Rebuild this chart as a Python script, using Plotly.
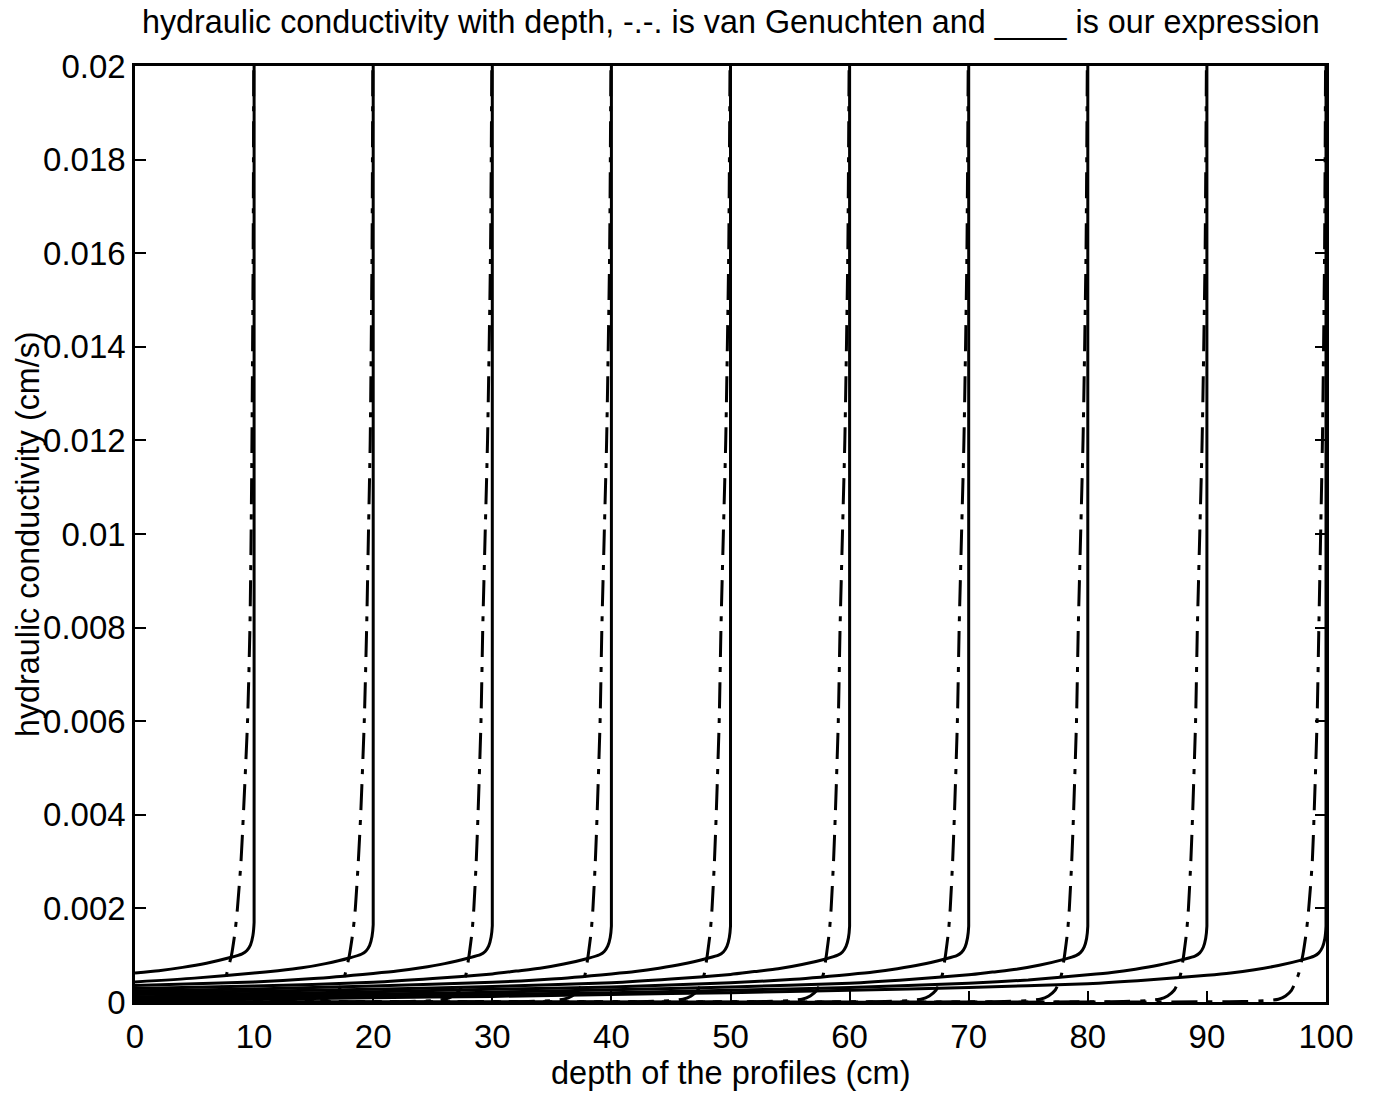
import plotly.graph_objects as go

# Profile depths (cm): each profile ends at its own depth
depths = [10, 20, 30, 40, 50, 60, 70, 80, 90, 100]

# "Our expression": distance above the bottom of each profile (cm)
ours_dist = [0.0, 0.1, 0.3, 0.6, 1.0, 2.0, 4.0, 6.0, 8.0, 10.0,
             15.0, 20.0, 30.0, 40.0, 50.0, 60.0, 70.0, 80.0, 90.0, 100.0]
# conductivity (cm/s) at those distances, one list per profile
ours_k = [
    [0.00170, 0.00142, 0.00122, 0.00110, 0.00103, 0.00095, 0.00083, 0.00074, 0.00067, 0.00062],
    [0.00165, 0.00140, 0.00121, 0.00109, 0.00102, 0.00094, 0.00082, 0.00073, 0.00067, 0.00062,
     0.00051, 0.00043],
    [0.00163, 0.00139, 0.00120, 0.00108, 0.00101, 0.00094, 0.00082, 0.00073, 0.00066, 0.00061,
     0.00050, 0.00043, 0.00035],
    [0.00162, 0.00138, 0.00120, 0.00108, 0.00101, 0.00093, 0.00081, 0.00072, 0.00066, 0.00060,
     0.00050, 0.00042, 0.00034, 0.00029],
    [0.00162, 0.00138, 0.00119, 0.00107, 0.00100, 0.00093, 0.00081, 0.00072, 0.00065, 0.00060,
     0.00049, 0.00042, 0.00034, 0.00028, 0.00024],
    [0.00162, 0.00137, 0.00119, 0.00107, 0.00100, 0.00092, 0.00080, 0.00071, 0.00065, 0.00059,
     0.00049, 0.00041, 0.00033, 0.00027, 0.00023, 0.00020],
    [0.00162, 0.00137, 0.00118, 0.00106, 0.00099, 0.00092, 0.00080, 0.00071, 0.00064, 0.00059,
     0.00048, 0.00041, 0.00032, 0.00027, 0.00022, 0.00018, 0.00016],
    [0.00162, 0.00136, 0.00118, 0.00106, 0.00099, 0.00091, 0.00079, 0.00070, 0.00064, 0.00058,
     0.00048, 0.00040, 0.00032, 0.00026, 0.00021, 0.00017, 0.00014, 0.00011],
    [0.00162, 0.00136, 0.00117, 0.00105, 0.00098, 0.00091, 0.00079, 0.00070, 0.00063, 0.00058,
     0.00047, 0.00040, 0.00031, 0.00025, 0.00020, 0.00016, 0.00013, 0.00010, 0.00008],
    [0.00162, 0.00135, 0.00117, 0.00105, 0.00098, 0.00090, 0.00078, 0.00069, 0.00062, 0.00057,
     0.00047, 0.00039, 0.00031, 0.00025, 0.00020, 0.00016, 0.00012, 0.00009, 0.00006, 0.00004],
]
# conductivity at the bottom of the profile, above the plotted range
ours_k_top = 0.021

# van Genuchten: conductivity levels (cm/s) and the depth (cm) at which each profile reaches them
vg_k = [0.021, 0.016, 0.012, 0.010, 0.008, 0.006, 0.004, 0.003, 0.002, 0.0015,
        0.001, 0.0006, 0.0004, 0.00025, 0.00013, 0.00006, 0.00003, 0.00001, 0.000003]
vg_depth = [
    [9.98, 9.92, 9.82, 9.75, 9.65, 9.45, 9.10, 8.90, 8.60, 8.40, 8.10, 7.70, 7.50, 7.20, 6.70, 6.00, 5.00, 3.00, 0.0],
    [19.98, 19.90, 19.75, 19.60, 19.45, 19.25, 18.95, 18.75, 18.50, 18.30, 18.00, 17.65, 17.40, 17.10, 16.60, 15.90, 14.80, 12.50, 0.0],
    [29.98, 29.85, 29.60, 29.40, 29.20, 29.05, 28.80, 28.65, 28.45, 28.30, 28.05, 27.80, 27.55, 27.25, 26.70, 26.00, 25.00, 23.00, 0.0],
    [39.98, 39.85, 39.60, 39.40, 39.20, 39.05, 38.80, 38.65, 38.45, 38.30, 38.05, 37.80, 37.55, 37.25, 36.70, 36.00, 35.00, 33.00, 0.0],
    [49.98, 49.85, 49.60, 49.40, 49.20, 49.05, 48.80, 48.65, 48.45, 48.30, 48.05, 47.80, 47.55, 47.25, 46.70, 46.00, 45.00, 43.00, 0.0],
    [59.98, 59.85, 59.60, 59.40, 59.20, 59.05, 58.80, 58.65, 58.45, 58.30, 58.05, 57.80, 57.55, 57.25, 56.70, 56.00, 55.00, 53.00, 0.0],
    [69.98, 69.85, 69.60, 69.40, 69.20, 69.05, 68.80, 68.65, 68.45, 68.30, 68.05, 67.80, 67.55, 67.25, 66.70, 66.00, 65.00, 63.00, 0.0],
    [79.98, 79.85, 79.60, 79.40, 79.20, 79.05, 78.80, 78.65, 78.45, 78.30, 78.05, 77.80, 77.55, 77.25, 76.70, 76.00, 75.00, 73.00, 0.0],
    [89.98, 89.85, 89.60, 89.40, 89.20, 89.05, 88.80, 88.65, 88.45, 88.30, 88.05, 87.80, 87.55, 87.25, 86.70, 86.00, 85.00, 83.00, 0.0],
    [99.98, 99.88, 99.70, 99.55, 99.40, 99.25, 99.00, 98.85, 98.55, 98.35, 98.05, 97.70, 97.40, 97.10, 96.60, 96.00, 95.00, 93.00, 0.0],
]

x_ticks = [0, 10, 20, 30, 40, 50, 60, 70, 80, 90, 100]
y_ticks = [0, 0.002, 0.004, 0.006, 0.008, 0.01, 0.012, 0.014, 0.016, 0.018, 0.02]
y_tick_text = ["0", "0.002", "0.004", "0.006", "0.008", "0.01", "0.012",
               "0.014", "0.016", "0.018", "0.02"]

FONT = "Liberation Sans, Arial, Helvetica, sans-serif"
LINE_W = 3.0

fig = go.Figure()

for depth, ks, vdep in zip(depths, ours_k, vg_depth):
    n = len(ks)
    xs = [depth] + [depth - d for d in ours_dist[:n]]
    ys = [ours_k_top] + ks
    fig.add_trace(go.Scatter(
        x=xs, y=ys, mode="lines",
        line=dict(color="black", width=LINE_W, shape="spline", smoothing=0.6),
        hoverinfo="skip", showlegend=False,
    ))
    fig.add_trace(go.Scatter(
        x=vdep, y=vg_k, mode="lines",
        line=dict(color="black", width=LINE_W, shape="spline", smoothing=0.6,
                  dash="26px,10px,5px,10px"),
        hoverinfo="skip", showlegend=False,
    ))

axis_common = dict(
    showgrid=False, zeroline=False,
    showline=True, linecolor="black", linewidth=2.5, mirror="ticks",
    ticks="inside", ticklen=11, tickwidth=2, tickcolor="black",
    tickfont=dict(family=FONT, size=33, color="black"),
)

fig.update_xaxes(range=[0, 100], tickvals=x_ticks, ticklabelstandoff=4, **axis_common)
fig.update_yaxes(range=[0, 0.02], tickvals=y_ticks, ticktext=y_tick_text,
                 ticklabelstandoff=0, **axis_common)

fig.add_annotation(
    text="hydraulic conductivity with depth, -.-. is van Genuchten and ____ is our expression",
    xref="paper", yref="paper", x=0.5, y=1, yshift=44,
    xanchor="center", yanchor="middle", showarrow=False,
    font=dict(family=FONT, size=32.3, color="black"),
)
fig.add_annotation(
    text="depth of the profiles (cm)",
    xref="paper", yref="paper", x=0.5, y=0, yshift=-71,
    xanchor="center", yanchor="middle", showarrow=False,
    font=dict(family=FONT, size=32.5, color="black"),
)
fig.add_annotation(
    text="hydraulic conductivity (cm/s)", textangle=-90,
    xref="paper", yref="paper", x=0, y=0.5, xshift=-107,
    xanchor="center", yanchor="middle", showarrow=False,
    font=dict(family=FONT, size=32.3, color="black"),
)

fig.update_layout(
    width=1374, height=1093,
    margin=dict(l=135, r=48, t=66, b=91),
    paper_bgcolor="white", plot_bgcolor="white",
    showlegend=False,
)

fig.write_html("out.html")
